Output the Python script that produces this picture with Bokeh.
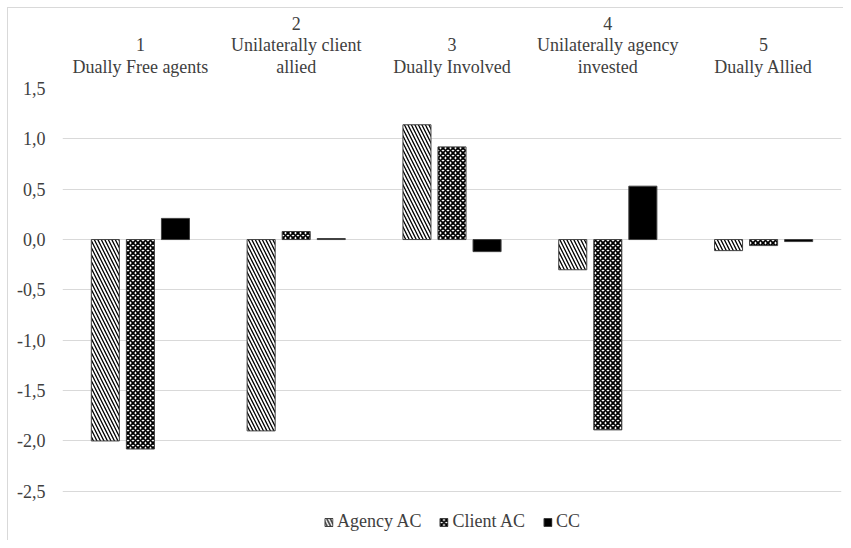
from bokeh.plotting import figure
from bokeh.models import FactorRange, Range1d, FixedTicker, Legend, LegendItem, ColumnDataSource, CustomJSTickFormatter
from bokeh.transform import dodge
from bokeh.embed import file_html
from bokeh.resources import INLINE

categories = ["1\nDually Free agents", "2\nUnilaterally client\nallied", "3\nDually Involved",
              "4\nUnilaterally agency\ninvested", "5\nDually Allied"]
agency_ac = [-2.00, -1.90, 1.14, -0.30, -0.11]
client_ac = [-2.08, 0.08, 0.92, -1.89, -0.06]
cc = [0.21, 0.01, -0.12, 0.53, -0.02]
y_ticks = [-2.5, -2.0, -1.5, -1.0, -0.5, 0.0, 0.5, 1.0, 1.5]
y_tick_labels = ["-2,5", "-2,0", "-1,5", "-1,0", "-0,5", "0,0", "0,5", "1,0", "1,5"]

src = ColumnDataSource(dict(cat=categories, agency=agency_ac, client=client_ac, cc=cc))

FONT = "Liberation Serif"
TXT = "#404040"
FS = "18px"

# frame spans 452 px for the 1.5 .. bottom-of-chart extent (100.7 px per unit)
p = figure(width=843, height=540, x_range=FactorRange(*categories), y_range=Range1d(1.5 - 452 / 100.7, 1.5),
           x_axis_location="above", output_backend="svg", toolbar_location=None,
           min_border_left=62, min_border_right=2, min_border_top=88, min_border_bottom=0)
p.outline_line_color = None
p.border_fill_color = None
p.background_fill_color = "white"
p.styles = {
    "background-color": "white",
    "background-image": "linear-gradient(#d9d9d9,#d9d9d9), linear-gradient(#d9d9d9,#d9d9d9)",
    "background-position": "7px 7px, 7px 7px",
    "background-size": "1px 100%, 100% 1px",
    "background-repeat": "no-repeat",
}

r1 = p.vbar(x=dodge("cat", -0.225, range=p.x_range), top="agency", width=0.18, source=src,
            fill_color="white", line_color="#404040", line_width=1,
            hatch_pattern="left_diagonal_line", hatch_color="black", hatch_weight=1.3, hatch_scale=7)
r2 = p.vbar(x=dodge("cat", 0.0, range=p.x_range), top="client", width=0.18, source=src,
            fill_color="white", line_color="#404040", line_width=1,
            hatch_pattern="diagonal_cross", hatch_color="black", hatch_weight=1.8, hatch_scale=5)
r3 = p.vbar(x=dodge("cat", 0.225, range=p.x_range), top="cc", width=0.18, source=src,
            fill_color="black", line_color="#404040", line_width=1)

p.xgrid.grid_line_color = None
p.ygrid.grid_line_color = "#d9d9d9"
p.ygrid.grid_line_width = 1

xa = p.xaxis[0]
xa.axis_line_color = None
xa.major_tick_line_color = None
xa.minor_tick_line_color = None
xa.major_label_text_font = FONT
xa.major_label_text_font_size = FS
xa.major_label_text_color = TXT
xa.major_label_text_line_height = 1.07
xa.major_label_standoff = 6
xa.major_label_orientation = "horizontal"

ya = p.yaxis[0]
ya.ticker = FixedTicker(ticks=y_ticks)
ya.formatter = CustomJSTickFormatter(args=dict(vals=y_ticks, labs=y_tick_labels), code="""
    for (let i = 0; i < vals.length; i++) { if (Math.abs(vals[i] - tick) < 1e-9) return labs[i]; }
    return tick.toFixed(1).replace('.', ',');
""")
ya.axis_line_color = None
ya.major_tick_line_color = None
ya.minor_tick_line_color = None
ya.major_label_text_font = FONT
ya.major_label_text_font_size = FS
ya.major_label_text_color = TXT
ya.major_label_standoff = 11

legend = Legend(items=[LegendItem(label="Agency AC", renderers=[r1]),
                       LegendItem(label="Client AC", renderers=[r2]),
                       LegendItem(label="CC", renderers=[r3])],
                orientation="horizontal", location="bottom_center",
                label_text_font=FONT, label_text_font_size=FS, label_text_color=TXT,
                glyph_width=10, glyph_height=10, spacing=17, label_standoff=4,
                border_line_color=None, background_fill_alpha=0, padding=4, margin=8)
p.add_layout(legend)

open("out.html", "w").write(file_html(p, INLINE))
